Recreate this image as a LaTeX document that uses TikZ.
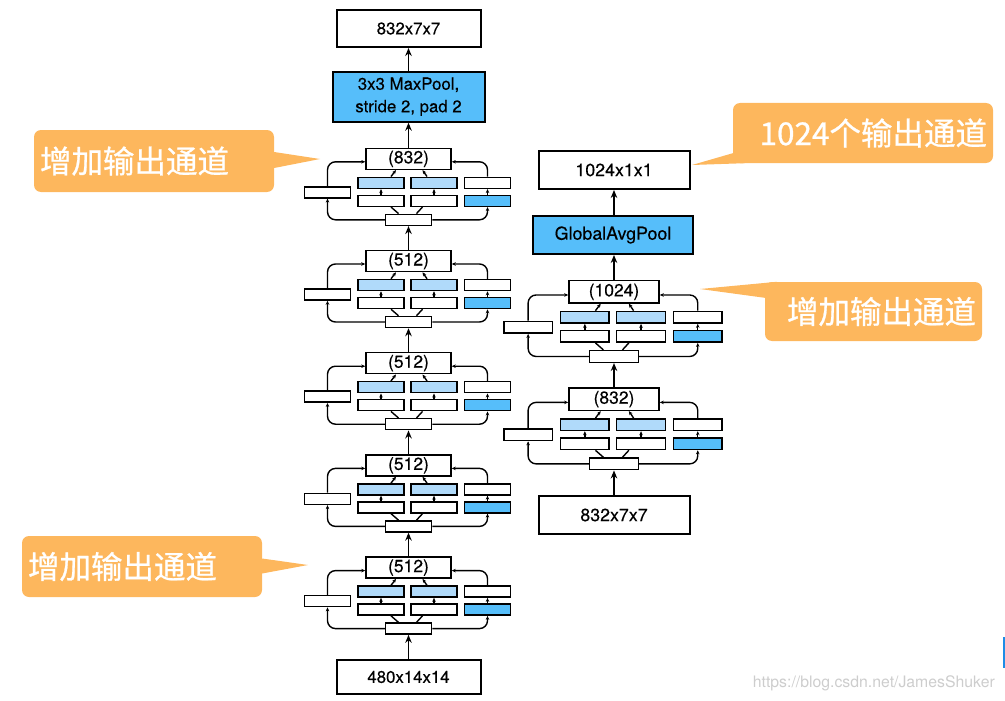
\documentclass[tikz,border=0pt]{standalone}
\usepackage{fontspec}
\setmainfont{TeX Gyre Heros}[FakeBold=0.3]
\newfontfamily\cjk{Noto Sans CJK SC}[FakeBold=0.8]
\newfontfamily\plain{TeX Gyre Heros}
\usetikzlibrary{arrows.meta,calc}
\definecolor{poolblue}{RGB}{86,190,250}
\definecolor{lightblue}{RGB}{176,218,250}
\definecolor{callorange}{RGB}{253,183,93}
\definecolor{markgray}{RGB}{205,205,205}
\definecolor{barblue}{RGB}{30,140,230}
\tikzset{
	box/.style={draw,line width=2pt,inner sep=0pt,align=center,fill=white,font=\fontsize{16.8}{22.5}\selectfont},
	rbox/.style={box,font=\fontsize{17.8}{22.5}\selectfont},
	arr/.style={line width=1.8pt,-{Stealth[length=8pt,width=6.5pt]}},
	sbox/.style={draw,line width=1.5pt,inner sep=0pt,fill=white},
	sarr/.style={line width=1.4pt,-{Stealth[length=4pt,width=3.5pt]}},
	callout/.style={fill=callorange,rounded corners=7pt,inner sep=6pt,text=white,font=\cjk\fontsize{31.5}{36}\selectfont}
}
% one inception block: name, x, y, label, scale
\newcommand{\incblock}[5]{%
	\begin{scope}[shift={(#2,#3)},scale=#5]
		\pgfmathsetmacro{\bw}{46*#5}
		\pgfmathsetmacro{\bh}{11*#5}
		\node[sbox,minimum width=85*#5,minimum height=21*#5,font=\fontsize{17.5}{17.5}\selectfont] (#1c) at (0,0) {#4};
		\node[sbox,fill=lightblue,minimum width=\bw,minimum height=\bh] (#1a1) at (-27.5,24) {};
		\node[sbox,fill=lightblue,minimum width=\bw,minimum height=\bh] (#1a2) at (25.5,24) {};
		\node[sbox,minimum width=\bw,minimum height=\bh] (#1a3) at (79,24) {};
		\node[sbox,minimum width=\bw,minimum height=\bh] (#1b1) at (-27.5,42) {};
		\node[sbox,minimum width=\bw,minimum height=\bh] (#1b2) at (25.5,42) {};
		\node[sbox,fill=poolblue,minimum width=\bw,minimum height=\bh] (#1b3) at (79,42) {};
		\node[sbox,minimum width=\bw,minimum height=\bh] (#1l) at (-81,33.5) {};
		\node[sbox,minimum width=\bw,minimum height=\bh] (#1i) at (0,61) {};
		% side paths
		\draw[sarr,rounded corners=8pt] (#1i.west) -| (#1l.south);
		\draw[sarr,rounded corners=8pt] (#1l.north) |- ($(#1c.west)+(0,3)$);
		\draw[sarr,rounded corners=8pt] (#1i.east) -| (#1b3.south);
		\draw[sarr,rounded corners=8pt] (#1a3.north) |- ($(#1c.east)+(0,3)$);
		% middle paths
		\foreach \k in {1,2,3}
			\draw[sarr] (#1b\k.north) -- (#1a\k.south);
		\draw[line width=1.4pt] ($(#1b1.south)+(10,0)$) -- ($(#1i.north)+(-10,0)$);
		\draw[line width=1.4pt] ($(#1b2.south)+(-11.5,0)$) -- ($(#1i.north)+(8,0)$);
		\draw[sarr] ($(#1a1.north)+(10,0)$) -- ($(#1c.south)+(-12.5,0)$);
		\draw[sarr] ($(#1a2.north)+(-7,0)$) -- ($(#1c.south)+(14,0)$);
	\end{scope}}
\begin{document}
\begin{tikzpicture}[x=1pt,y=-1pt]
	\useasboundingbox (0,0) rectangle (1005,701);
	% left column
	\node[box,minimum width=144pt,minimum height=34pt] (in1) at (408.5,677) {480x14x14};
	\incblock{b1}{408.5}{567.6}{(512)}{1}
	\incblock{b2}{408.5}{465.4}{(512)}{1}
	\incblock{b3}{408.5}{363.2}{(512)}{1}
	\incblock{b4}{408.5}{261}{(512)}{1}
	\incblock{b5}{408.5}{158.8}{(832)}{1}
	\node[box,fill=poolblue,minimum width=152pt,minimum height=50pt] (mp) at (408.5,96.7) {3x3 MaxPool,\\stride 2, pad 2};
	\node[box,minimum width=144pt,minimum height=37pt] (out1) at (408.5,28.5) {832x7x7};
	\foreach \a/\b in {in1/b1i,b1c/b2i,b2c/b3i,b3c/b4i,b4c/b5i,b5c/mp,mp/out1}
		\draw[arr] (\a) -- (\b);
	% right column
	\node[rbox,minimum width=151pt,minimum height=38pt] (in2) at (614,515) {832x7x7};
	\incblock{r1}{614}{399.2}{(832)}{1.06}
	\incblock{r2}{614}{291.8}{(1024)}{1.06}
	\node[rbox,fill=poolblue,minimum width=160pt,minimum height=38pt] (gap) at (613,235) {GlobalAvgPool};
	\node[rbox,minimum width=151pt,minimum height=38pt] (out2) at (614,170) {1024x1x1};
	\foreach \a/\b in {in2/r1i,r1c/r2i}
		\draw[arr] (\a) -- (\b);
	\draw[arr] (r2c.north) -- (r2c.north |- gap.south);
	\draw[arr] (gap.north -| out2.south) -- (out2.south);
	% callouts
	\node[callout,minimum height=62pt,text width=228pt,align=left] (t1) at (154,161) {增加输出通道};
	\coordinate (p1) at (320,159);
	\fill[callorange] ($(t1.east)+(0,-9)$) -- (p1) -- ($(t1.east)+(0,7)$) -- cycle;
	\node[callout,minimum height=61pt,text width=228pt,align=left] (t2) at (142,566.5) {增加输出通道};
	\coordinate (p2) at (308,565);
	\fill[callorange] ($(t2.east)+(0,-8)$) -- (p2) -- ($(t2.east)+(0,7)$) -- cycle;
	\node[callout,minimum height=60pt,text width=248pt,align=right] (t3) at (863,133) {1024个输出通道};
	\coordinate (p3) at (692,165);
	\fill[callorange] ($(t3.south west)+(0,-10)$) -- (p3) -- ($(t3.south west)+(12,0)$) -- cycle;
	\node[callout,minimum height=59pt,text width=205pt,align=right] (t4) at (873.5,311.5) {增加输出通道};
	\coordinate (p4) at (700,289);
	\fill[callorange] ($(t4.north west)+(12,0)$) -- (p4) -- ($(t4.north west)+(0,16)$) -- cycle;
	% watermark
	\node[anchor=east,inner sep=0pt,text=markgray,font=\plain\fontsize{15.8}{17}\selectfont] (wm) at (995,683) {https://blog.csdn.net/JamesShuker};
	\fill[barblue] (1003,637) rectangle (1005,668);
\end{tikzpicture}
\end{document}
